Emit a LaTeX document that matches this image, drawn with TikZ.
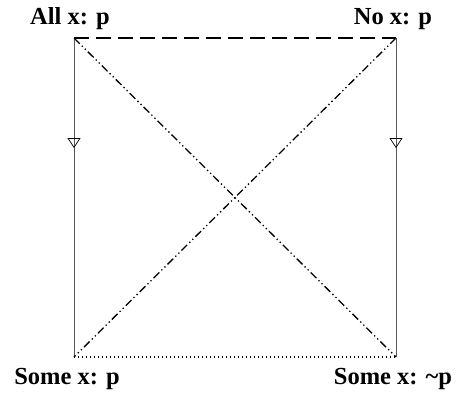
\documentclass[tikz,border=0pt]{standalone}
\usepackage{fontspec}
\setmainfont{Liberation Serif}
\usetikzlibrary{arrows.meta, decorations.markings}

\begin{document}
\begin{tikzpicture}[x=1pt, y=-1pt,
    corner/.style={font=\fontsize{24.5}{28}\selectfont\bfseries, inner sep=0pt, anchor=base},
    implies/.style={gray!70!black, line width=0.8pt, postaction={decorate},
        decoration={markings, mark=at position 0.345 with {\arrow[black, line width=0.7pt]{Triangle[open, width=13pt, length=10pt]}}}},
    contrary/.style={line width=1.6pt, dash pattern=on 15pt off 7pt},
    subcontrary/.style={line width=1.1pt, dash pattern=on 1.2pt off 2.8pt},
    contradict/.style={line width=1.3pt, dash pattern=on 8pt off 3pt on 1.3pt off 3pt on 1.3pt off 3pt}]
    \useasboundingbox (0,0) rectangle (459,394);

    % 四隅
    \coordinate (A) at (74,38);
    \coordinate (E) at (396,38);
    \coordinate (I) at (74,357);
    \coordinate (O) at (396,357);

    % ラベル
    \node[corner] (labA) at (70,24) {All x: p};
    \node[corner] (labE) at (393,24) {No x: p};
    \node[corner] (labI) at (67,384) {Some x: p};
    \node[corner] (labO) at (393,384) {Some x: \textasciitilde p};

    % 辺
    \draw[contrary] (A) -- (E);
    \draw[subcontrary] (I) -- (O);
    \draw[implies] (A) -- (I);
    \draw[implies] (E) -- (O);

    % 対角線
    \draw[contradict] (A) -- (O);
    \draw[contradict] (E) -- (I);
\end{tikzpicture}
\end{document}
